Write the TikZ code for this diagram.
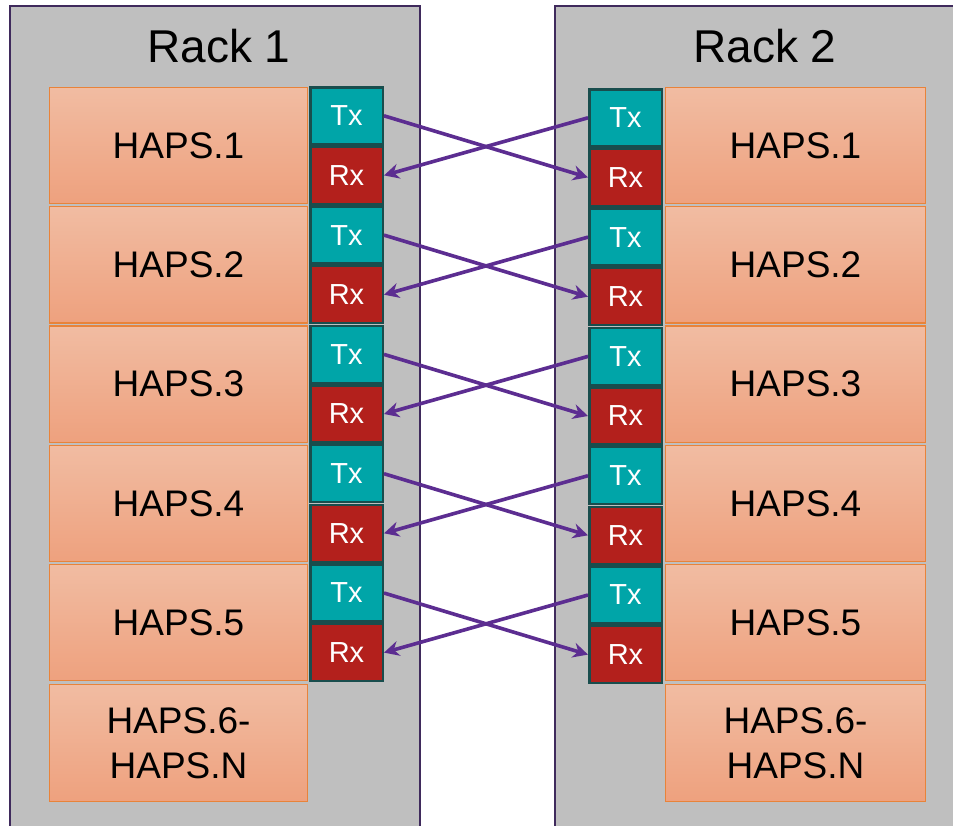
\documentclass[tikz,border=0pt]{standalone}
\usepackage{fontspec}
\setmainfont{Liberation Sans}
\usetikzlibrary{arrows.meta}
\definecolor{rackgray}{HTML}{BFBFBF}
\definecolor{rackline}{HTML}{3F2A5C}
\definecolor{txcol}{HTML}{00A5A8}
\definecolor{rxcol}{HTML}{B3201C}
\definecolor{portline}{HTML}{194D4D}
\definecolor{hapstop}{HTML}{F1BCA2}
\definecolor{hapsbot}{HTML}{EEA17E}
\definecolor{hapsline}{HTML}{E8833A}
\definecolor{linkcol}{HTML}{5C2D91}
\tikzset{
  rack/.style={fill=rackgray, draw=rackline, line width=2pt},
  racklabel/.style={anchor=base, font=\fontsize{46}{50}\selectfont, text=black},
  haps/.style={draw=hapsline, line width=1.2pt, top color=hapstop, bottom color=hapsbot,
    minimum height=116.3pt, inner sep=0pt, font=\fontsize{37}{45}\selectfont, align=center, text=black},
  port/.style={draw=portline, line width=2.5pt, minimum width=72.5pt, minimum height=57pt,
    inner sep=0pt, text=white, font=\fontsize{29}{30}\selectfont},
  txbox/.style={port, fill=txcol},
  rxbox/.style={port, fill=rxcol},
  link/.style={draw=linkcol, line width=3.6pt, -{Stealth[length=15pt,width=15pt]}}
}
\begin{document}
\begin{tikzpicture}[x=1pt,y=-1pt]
\useasboundingbox (0,0) rectangle (953,825);
\clip (0,0) rectangle (953,825);
\fill[white] (0,0) rectangle (953,825);
% racks
\draw[rack] (10,6) rectangle (420,850);
\draw[rack] (555,6) rectangle (980,850);
\node[racklabel] (r1label) at (219,62) {Rack 1};
\node[racklabel] (r2label) at (765,62) {Rack 2};
% rows
\foreach \i in {1,...,5} {
  \pgfmathsetmacro{\hy}{145.5+119.3*(\i-1)}
  \pgfmathsetmacro{\ty}{115.8+119.3*(\i-1)}
  \pgfmathsetmacro{\ry}{175.4+119.3*(\i-1)}
  \pgfmathsetmacro{\tyr}{117.8+119.3*(\i-1)}
  \pgfmathsetmacro{\ryr}{177.4+119.3*(\i-1)}
  \node[haps, minimum width=258pt] (L\i h) at (178.5,\hy) {HAPS.\i};
  \node[haps, minimum width=260pt] (R\i h) at (795.5,\hy) {HAPS.\i};
  \node[txbox] (L\i t) at (346.5,\ty) {Tx};
  \node[rxbox] (L\i r) at (346.5,\ry) {Rx};
  \node[txbox] (R\i t) at (625.5,\tyr) {Tx};
  \node[rxbox] (R\i r) at (625.5,\ryr) {Rx};
  \draw[link] (L\i t.east) -- (R\i r.west);
  \draw[link] (R\i t.west) -- (L\i r.east);
}
\node[haps, minimum width=258pt] (L6h) at (178.5,743) {HAPS.6-\\HAPS.N};
\node[haps, minimum width=260pt] (R6h) at (795.5,743) {HAPS.6-\\HAPS.N};
\end{tikzpicture}
\end{document}
